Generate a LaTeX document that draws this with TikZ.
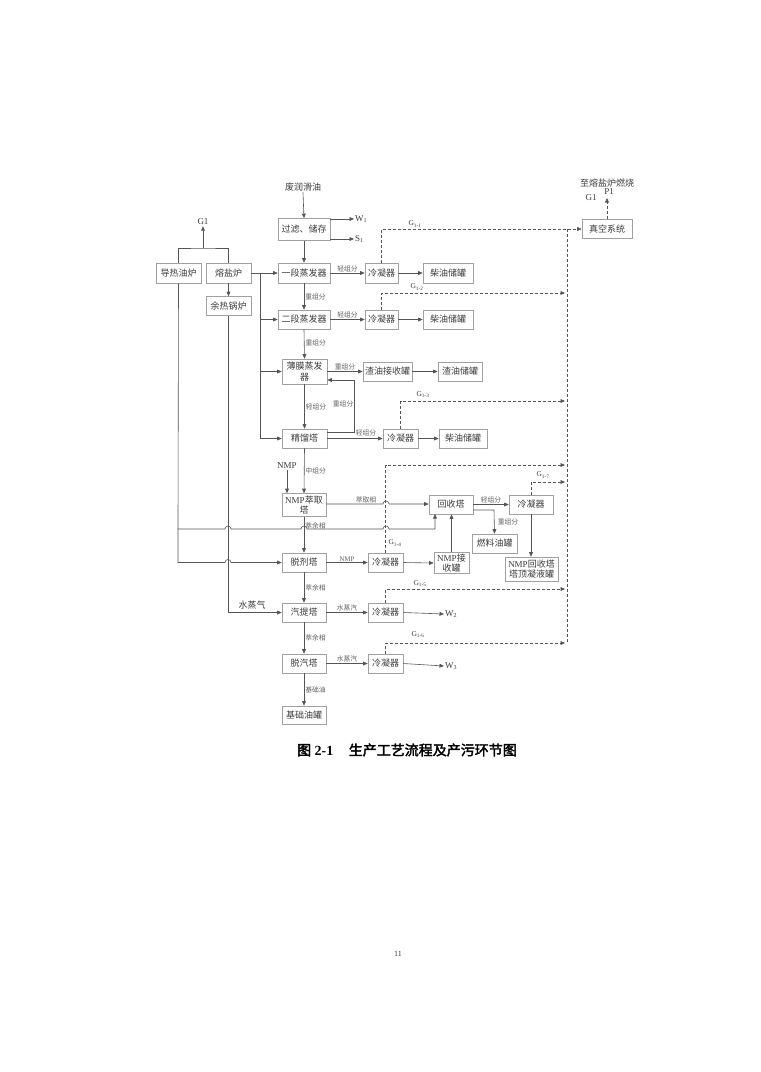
\documentclass[tikz,border=0pt]{standalone}
\usepackage{fontspec}
\setmainfont{Liberation Serif}
\newfontfamily\cjk{Noto Sans CJK SC}
\newfontfamily\cjkb[FakeBold=2.5]{Noto Sans CJK SC}
\usetikzlibrary{arrows.meta}
\definecolor{lncol}{RGB}{85,85,85}
\definecolor{bxcol}{RGB}{160,160,160}
\definecolor{txcol}{RGB}{60,60,60}
\definecolor{lbcol}{RGB}{95,95,95}
\newcommand\lat[1]{{\rmfamily #1}}
\tikzset{
  box/.style={draw=bxcol, line width=0.6pt, fill=white, inner sep=0pt, align=center,
    font=\cjk\fontsize{9}{10.5}\selectfont, text=txcol, minimum height=19pt},
  lab/.style={font=\cjk\fontsize{6.8}{7}\selectfont, text=lbcol, inner sep=1pt},
  txt/.style={font=\cjk\fontsize{9}{10}\selectfont, text=txcol, inner sep=1pt},
  ltxt/.style={font=\rmfamily\fontsize{9}{10}\selectfont, text=txcol, inner sep=1pt},
  cline/.style={draw=lncol, line width=0.6pt},
  arr/.style={cline, -{Triangle[length=4.5pt,width=3.8pt]}},
  dsh/.style={cline, dash pattern=on 3pt off 2pt},
  darr/.style={dsh, -{Triangle[length=4.5pt,width=3.8pt]}},
}
\begin{document}
\begin{tikzpicture}[x=1pt,y=-1pt]
\useasboundingbox[fill=white] (0,0) rectangle (761,1072);

% ---------- boxes ----------
\node[box, minimum width=52pt, minimum height=22pt] (guolv) at (304,229.5) {过滤、储存};
\node[box, minimum width=45pt, minimum height=20pt] (daore) at (178.5,273) {导热油炉};
\node[box, minimum width=45pt, minimum height=20pt] (rongyan) at (228.5,273) {熔盐炉};
\node[box, minimum width=45pt] (yure) at (228.5,306) {余热锅炉};
\node[box, minimum width=52pt, minimum height=20pt] (yiduan) at (304,273) {一段蒸发器};
\node[box, minimum width=33pt, minimum height=20pt] (lq1) at (381.5,273) {冷凝器};
\node[box, minimum width=50pt, minimum height=20pt] (cy1) at (448,273) {柴油储罐};
\node[box, minimum width=50pt] (zk) at (607,229) {真空系统};
\node[box, minimum width=52pt] (erduan) at (304,319.5) {二段蒸发器};
\node[box, minimum width=33pt] (lq2) at (381.5,319.5) {冷凝器};
\node[box, minimum width=50pt] (cy2) at (448,319.5) {柴油储罐};
\node[box, minimum width=45pt, minimum height=25pt] (bomo) at (304.5,371.5) {薄膜蒸发\\器};
\node[box, minimum width=49pt] (zyjs) at (387.5,371.5) {渣油接收罐};
\node[box, minimum width=44pt] (zycg) at (460,371.5) {渣油储罐};
\node[box, minimum width=45pt] (jingliu) at (304.5,438.5) {精馏塔};
\node[box, minimum width=35pt] (lq3) at (400.5,438.5) {冷凝器};
\node[box, minimum width=48pt] (cy3) at (463,438.5) {柴油储罐};
\node[box, minimum width=44pt, minimum height=23pt] (nmpcq) at (304,505) {\lat{NMP}萃取\\塔};
\node[box, minimum width=44pt] (huishou) at (451,504.5) {回收塔};
\node[box, minimum width=44pt] (lq5) at (531,504.5) {冷凝器};
\node[box, minimum width=45pt] (ranliao) at (494.5,543.5) {燃料油罐};
\node[box, minimum width=44pt] (tuoji) at (304,562.5) {脱剂塔};
\node[box, minimum width=35pt] (lq4) at (385.5,562.5) {冷凝器};
\node[box, minimum width=35pt, minimum height=21pt] (nmpjs) at (451.5,563) {\lat{NMP}接\\收罐};
\node[box, minimum width=53pt, minimum height=24pt] (nmphs) at (531.5,569) {\lat{NMP}回收塔\\塔顶凝液罐};
\node[box, minimum width=44pt] (qiti) at (304,612.5) {汽提塔};
\node[box, minimum width=35pt] (lq6) at (385.5,612.5) {冷凝器};
\node[box, minimum width=44pt] (tuoqi) at (304,663.5) {脱汽塔};
\node[box, minimum width=35pt] (lq7) at (385.5,663.5) {冷凝器};
\node[box, minimum width=44pt, minimum height=18pt] (jichu) at (304,715) {基础油罐};

% ---------- free texts ----------
\node[txt] (feed) at (303,187) {废润滑油};
\node[ltxt, anchor=west] (w1) at (354,219) {W\textsubscript{1}};
\node[ltxt, anchor=west] (s1) at (354,239) {S\textsubscript{1}};
\node[ltxt] (g1l) at (203,222) {G1};
\node[txt] (zhi) at (607,183) {至熔盐炉燃烧};
\node[ltxt] (g1r) at (591,197.5) {G1};
\node[ltxt] (p1) at (609,192) {P1};
\node[ltxt] (nmp) at (287,466) {NMP};
\node[txt] (sz) at (252,605.5) {水蒸气};
\node[ltxt, anchor=west] (w2) at (444,614) {W\textsubscript{2}};
\node[ltxt, anchor=west] (w3) at (444,666) {W\textsubscript{3}};

% ---------- main column ----------
\draw[arr] (feed.south) -- (guolv.north);
\draw[arr] (guolv.east |- w1.west) -- (w1.west);
\draw[arr] (guolv.east |- s1.west) -- (s1.west);
\draw[arr] (guolv.south) -- (yiduan.north);
\draw[arr] (yiduan.south) -- node[lab, right, pos=0.5]{重组分} (erduan.north);
\draw[arr] (erduan.south) -- node[lab, right, pos=0.45]{重组分} (bomo.north);
\draw[arr] (bomo.south) -- node[lab, right]{轻组分} (jingliu.north);
\draw[arr] (jingliu.south) -- node[lab, right]{中组分} (nmpcq.north);
\draw[arr] (nmp.south) -- (nmp.south |- nmpcq.north);
\draw[arr] (nmpcq.south) -- node[lab, right, pos=0.25]{萃余相} (tuoji.north);
\draw[arr] (tuoji.south) -- node[lab, right]{萃余相} (qiti.north);
\draw[arr] (qiti.south) -- node[lab, right]{萃余相} (tuoqi.north);
\draw[arr] (tuoqi.south) -- node[lab, right]{基础油} (jichu.north);

% ---------- furnaces ----------
\coordinate (gj) at (203,248);
\draw[cline] (daore.north) |- (gj) -| (rongyan.north);
\draw[arr] (gj) -- (g1l.south);
\draw[arr] (rongyan.south) -- (yure.north);
\draw[arr] (rongyan.east) -- (yiduan.west);
\coordinate (bj) at (260,273);
\draw[arr] (bj) |- (jingliu.west);
\draw[arr] (bj |- erduan.west) -- (erduan.west);
\draw[arr] (bj |- bomo.west) -- (bomo.west);

% ---------- side branches ----------
\draw[arr] (yiduan.east) -- node[lab, above]{轻组分} (lq1.west);
\draw[arr] (lq1.east) -- (cy1.west);
\draw[arr] (erduan.east) -- node[lab, above]{轻组分} (lq2.west);
\draw[arr] (lq2.east) -- (cy2.west);
\draw[arr] (bomo.east) -- node[lab, above]{重组分} (zyjs.west);
\draw[arr] (zyjs.east) -- (zycg.west);
\draw[arr] (jingliu.east |- 0,432) -- (354,432) -- (354,380) -- (bomo.east |- 0,380);
\node[lab, anchor=east] at (354.5,404) {重组分};
\draw[arr] (jingliu.east) -- (lq3.west);
\node[lab] at (366,433) {轻组分};
\draw[arr] (lq3.east) -- (cy3.west);

% extraction / recovery
\draw[arr] (nmpcq.east |- 0,504) -- node[lab, above, pos=0.7]{萃取相} (383,504)
  arc[start angle=180, end angle=0, radius=3pt] -- (huishou.west |- 0,504);
\draw[arr] (daore.south) -- (178,529) -- (225,529)
  arc[start angle=180, end angle=0, radius=3pt] -- (301,529)
  arc[start angle=180, end angle=0, radius=3pt] -- (383,529)
  arc[start angle=180, end angle=0, radius=3pt] -- (435,529) -- (435,514);
\draw[arr] (178,529) -- (178,562.5) -- (225,562.5)
  arc[start angle=180, end angle=0, radius=3pt] -- (tuoji.west);
\draw[arr] (yure.south) |- (qiti.west);
\draw[arr] (tuoji.east) -- node[font=\rmfamily\fontsize{7}{8}\selectfont, text=lbcol, inner sep=1pt, above]{NMP} (lq4.west);
\draw[arr] (lq4.east) -- (nmpjs.west);
\draw[arr] (nmpjs.north) -- (nmpjs.north |- huishou.south);
\draw[arr] (huishou.east) -- node[lab, above]{轻组分} (lq5.west);
\draw[arr] (huishou.east |- 0,510) -- (494,510) -- (ranliao.north);
\node[lab] at (508,522) {重组分};
\draw[arr] (lq5.south) -- (lq5.south |- nmphs.north);

\draw[arr] (qiti.east) -- node[lab, above]{水蒸汽} (lq6.west);
\draw[arr] (lq6.east) -- (w2.west);
\draw[arr] (tuoqi.east) -- node[lab, above]{水蒸汽} (lq7.west);
\draw[arr] (lq7.east) -- (w3.west);

% ---------- dashed off-gas lines ----------
\draw[darr] (lq1.north) |- (zk.west);
\node[ltxt] at (415,224) {\fontsize{7.5}{8}\selectfont G\textsubscript{1-1}};
\draw[darr] (lq2.north) |- (565,293);
\node[ltxt] at (417,287) {\fontsize{7.5}{8}\selectfont G\textsubscript{1-2}};
\draw[darr] (lq3.north) |- (565,401);
\node[ltxt] at (423,395) {\fontsize{7.5}{8}\selectfont G\textsubscript{1-3}};
\draw[darr] (lq4.north) |- (565,465);
\node[ltxt] at (395,543) {\fontsize{7.5}{8}\selectfont G\textsubscript{1-4}};
\draw[darr] (lq5.north) |- (565,482);
\node[ltxt] at (543,475) {\fontsize{7.5}{8}\selectfont G\textsubscript{1-7}};
\draw[darr] (lq6.north) |- (565,589);
\node[ltxt] at (420,584) {\fontsize{7.5}{8}\selectfont G\textsubscript{1-5}};
\draw[darr] (lq7.north) |- (565,643);
\node[ltxt] at (418,635) {\fontsize{7.5}{8}\selectfont G\textsubscript{1-6}};
\draw[dsh] (567,229) -- (567,643);
\draw[darr] (zk.north) -- (607,198);

% ---------- caption & page number ----------
\node[anchor=west, inner sep=0pt, text=black] (cap) at (297,750)
  {\fontsize{14}{15}\selectfont{\cjkb 图} \textbf{2-1}\hspace{1.1em}{\cjkb 生产工艺流程及产污环节图}};
\node[font=\rmfamily\fontsize{8}{9}\selectfont, text=txcol] (pg) at (398,954) {11};
\end{tikzpicture}
\end{document}
